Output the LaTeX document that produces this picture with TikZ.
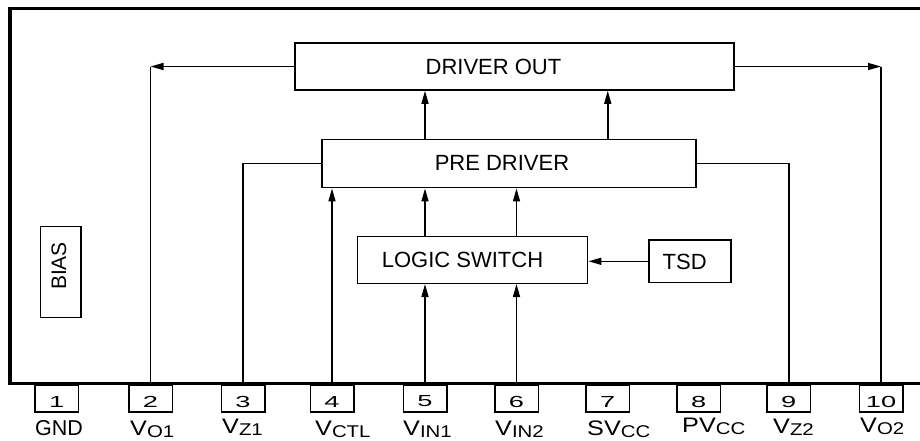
\documentclass[tikz,border=0pt]{standalone}
\usepackage{fontspec}
\setmainfont{Liberation Sans}
\usetikzlibrary{arrows.meta}
\newcommand{\pinV}[2]{\scalebox{1.2}[1]{\fontsize{21}{21}\selectfont #1\raisebox{-2pt}{\fontsize{17}{17}\selectfont #2}}}
\newcommand{\pinnum}[1]{\scalebox{1.7}[1]{\fontsize{16}{16}\selectfont #1}}
\begin{document}
\begin{tikzpicture}[x=1pt,y=-1pt,
  blk/.style={draw, line width=1.5pt, inner sep=0pt},
  lbl/.style={inner sep=0pt, font=\fontsize{22}{22}\selectfont},
  conn/.style={line width=1.5pt},
  arr/.style={conn, -{Triangle[length=13pt,width=7pt]}},
  pinbox/.style={draw, line width=1.5pt, inner sep=0pt, minimum width=43.5pt, minimum height=27pt},
  pinnumst/.style={inner sep=0pt},
  plabel/.style={anchor=base west, inner sep=0pt},
  frame/.style={line width=3.5pt}]
\useasboundingbox (0,0) rectangle (920,440);
% blocks
\node[blk, minimum width=439pt, minimum height=47pt] (dout) at (514.5,66.5) {};
\node[lbl] (doutt) at (493.5,66.5) {DRIVER OUT};
\node[blk, minimum width=374.3pt, minimum height=48.4pt] (pre) at (509,163.5) {};
\node[lbl] (pret) at (502,162.5) {PRE DRIVER};
\node[blk, minimum width=230pt, minimum height=46.6pt] (ls) at (472.7,260) {};
\node[lbl] (lst) at (462.5,259.5) {LOGIC SWITCH};
\node[blk, minimum width=82pt, minimum height=42.7pt] (tsd) at (690,261.3) {};
\node[lbl] (tsdt) at (684.7,262) {TSD};
\node[blk, minimum width=40.3pt, minimum height=90.6pt] (bias) at (60.8,272) {};
\node[lbl, rotate=90, font=\fontsize{21}{21}\selectfont] (biast) at (59,266) {BIAS};
% pins
\foreach \i/\x in {1/56.75,2/150.5,3/243,4/332,5/425,6/516.5,7/607.75,8/698.75,9/788.75,10/881}{
  \node[pinbox] (p\i) at (\x,398.5) {};
  \node[pinnumst] (n\i) at (\x,401.5) {\pinnum{\i}};
}
% pin labels
\node[plabel] (l1) at (35,435.5) {\fontsize{21.5}{21.5}\selectfont GND};
\node[plabel] (l2) at (130,435) {\pinV{V}{O1}};
\node[plabel] (l3) at (222,433.5) {\pinV{V}{Z1}};
\node[plabel] (l4) at (315,435) {\pinV{V}{CTL}};
\node[plabel] (l5) at (403,435) {\pinV{V}{IN1}};
\node[plabel] (l6) at (495,435) {\pinV{V}{IN2}};
\node[plabel] (l7) at (587,435) {\pinV{SV}{CC}};
\node[plabel] (l8) at (682,432.5) {\pinV{PV}{CC}};
\node[plabel] (l9) at (773,433.5) {\pinV{V}{Z2}};
\node[plabel] (l10) at (860,432.5) {\pinV{V}{O2}};
% connectors
\coordinate (c2) at (dout.west -| p2.north);
\coordinate (c10) at (dout.east -| p10.north);
\draw[arr] (dout.west) -- (c2);
\draw[conn] (c2) -- (p2.north);
\draw[arr] (dout.east) -- (c10);
\draw[conn] (c10) -- (p10.north);
\draw[conn] (pre.west) -| (p3.north);
\draw[conn] (pre.east) -| (p9.north);
\draw[arr] (p4.north) -- (pre.south -| p4.north);
\draw[arr] (p5.north) -- (ls.south -| p5.north);
\draw[arr] (p6.north) -- (ls.south -| p6.north);
\draw[arr] (ls.north -| p5.north) -- (pre.south -| p5.north);
\draw[arr] (ls.north -| p6.north) -- (pre.south -| p6.north);
\draw[arr] (pre.north -| p5.north) -- (dout.south -| p5.north);
\draw[arr] (pre.north -| p7.north) -- (dout.south -| p7.north);
\draw[arr] (tsd.west) -- (ls.east |- tsd.west);
% package outline
\draw[frame] (920,8.5) -- (10,8.5) -- (10,383.5) -- (920,383.5);
\end{tikzpicture}
\end{document}
